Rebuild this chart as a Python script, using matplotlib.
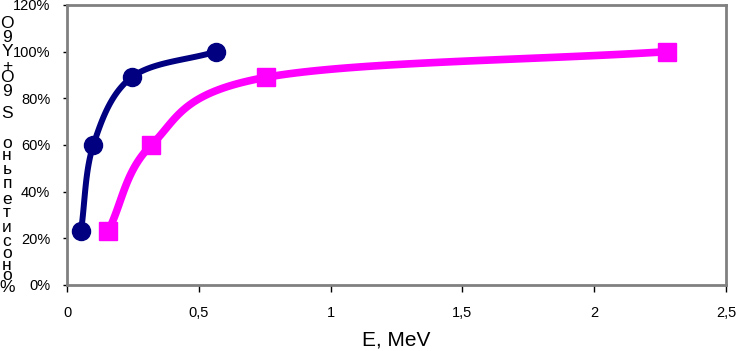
import numpy as np
import matplotlib
matplotlib.use("Agg")
import matplotlib.pyplot as plt
from matplotlib.ticker import FuncFormatter

plt.rcParams['font.family'] = ['Liberation Sans', 'DejaVu Sans']

# data
e_blue = [0.053, 0.10, 0.245, 0.565]
d_blue = [23, 60, 89, 100]
e_pink = [0.156, 0.32, 0.755, 2.276]
d_pink = [23, 60, 89, 100]
x_ticks = [0, 0.5, 1, 1.5, 2, 2.5]
y_ticks = [0, 20, 40, 60, 80, 100, 120]
ylabel_chars = list("О9Y+О9Sоньпетисоно%")
ylabel_centers = [24, 37, 51, 66, 78, 91, 113, 143, 155, 170, 184, 200, 213, 228, 241, 253, 265, 276, 288]


def smooth(x, y, n=40):
    x = np.asarray(x, float); y = np.asarray(y, float)
    P = np.column_stack([x, y])
    P = np.vstack([2 * P[0] - P[1], P, 2 * P[-1] - P[-2]])
    out = []
    for i in range(1, len(P) - 2):
        p0, p1, p2, p3 = P[i - 1], P[i], P[i + 1], P[i + 2]
        t = np.linspace(0, 1, n)[:, None]
        seg = 0.5 * ((2 * p1) + (-p0 + p2) * t + (2 * p0 - 5 * p1 + 4 * p2 - p3) * t ** 2
                     + (-p0 + 3 * p1 - 3 * p2 + p3) * t ** 3)
        out.append(seg)
    S = np.vstack(out)
    return S[:, 0], S[:, 1]


W, H = 736, 351
fig = plt.figure(figsize=(W / 100, H / 100), dpi=100)
L, R, T, B = 67, 726, 5, 285
ax = fig.add_axes([L / W, 1 - B / H, (R - L) / W, (B - T) / H])

sx = (R - L) / 2.5
sy = (B - T) / 120
xs, ys = smooth(np.array(e_blue) * sx, np.array(d_blue) * sy)
ax.plot(xs / sx, ys / sy, color='#000080', lw=4.3, solid_capstyle='round', zorder=2)
ax.plot(e_blue, d_blue, 'o', color='#000080', ms=13, zorder=3)
xs, ys = smooth(np.array(e_pink) * sx, np.array(d_pink) * sy)
ax.plot(xs / sx, ys / sy, color='#FF00FF', lw=5.5, solid_capstyle='butt', zorder=2)
ax.plot(e_pink, d_pink, 's', color='#FF00FF', ms=13.5, zorder=3)

ax.set_xlim(0, 2.5)
ax.set_ylim(0, 120)
ax.set_xticks(x_ticks)
ax.set_yticks(y_ticks)
ax.xaxis.set_major_formatter(FuncFormatter(lambda v, p: ('%g' % v).replace('.', ',')))
ax.yaxis.set_major_formatter(FuncFormatter(lambda v, p: '%d%%' % v))
ax.tick_params(axis='both', labelsize=10.5, length=5, width=1, color='black', direction='out')
ax.tick_params(axis='x', pad=10)
ax.tick_params(axis='y', pad=9, length=3)
for s in ['top', 'right', 'left', 'bottom']:
    ax.spines[s].set_color('#808080')
    ax.spines[s].set_linewidth(2)

ax.set_xlabel('E, MeV', fontsize=15, labelpad=8)

for ch, yc in zip(ylabel_chars, ylabel_centers):
    fig.text(7 / W, 1 - yc / H, ch, fontsize=12.5, ha='center', va='center')

fig.savefig('out.png', dpi=100)
